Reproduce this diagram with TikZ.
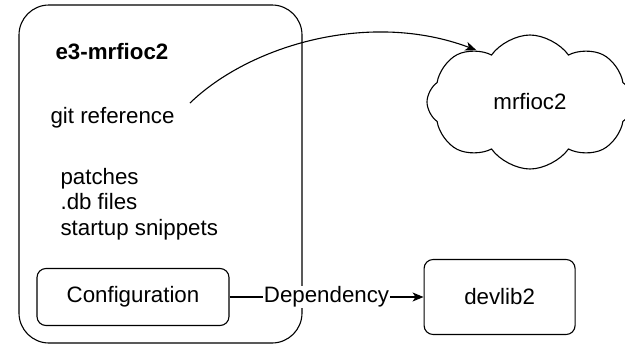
\documentclass[tikz,border=0pt]{standalone}
\usepackage{fontspec}
\setmainfont{Liberation Sans}
\usetikzlibrary{shapes.symbols, arrows.meta, positioning}

\begin{document}
\begin{tikzpicture}[
  x=1pt, y=-1pt,
  font=\fontsize{22.3}{25.5}\selectfont,
  line width=1.1pt,
  box/.style={rectangle, draw, rounded corners=9pt, minimum width=192pt, minimum height=57pt, align=center},
  txt/.style={anchor=west, align=left, inner sep=0pt},
  arrow/.style={-{Stealth[length=11pt, width=9pt, inset=3pt]}},
]
\useasboundingbox (0,0) rectangle (625,346);

% container
\draw[rounded corners=30pt] (19,5) rectangle (302,343);
\node[txt, font=\fontsize{22.3}{25.5}\selectfont\bfseries] (title) at (55,52) {e3-mrfioc2};
\node[txt] (gitref) at (50,118) {git reference};
\node[txt] (extras) at (60,204) {patches\\.db files\\startup snippets};
\node[box] (config) at (133,297) {Configuration};

\node[box, minimum width=151pt, minimum height=75pt, right=194pt of config] (devlib) {devlib2};
\node[cloud, draw, cloud puffs=8, cloud puff arc=110, aspect=1.6, minimum width=206pt, minimum height=134pt, inner sep=0pt] (mrfioc) at (530,102) {mrfioc2};

\coordinate (gitend) at (190,103);
\draw[arrow] (gitend) .. controls (250,45) and (370,10) .. (mrfioc.136);
\draw[arrow] (config) -- node[fill=white, inner sep=1pt] {Dependency} (devlib);
\end{tikzpicture}
\end{document}
